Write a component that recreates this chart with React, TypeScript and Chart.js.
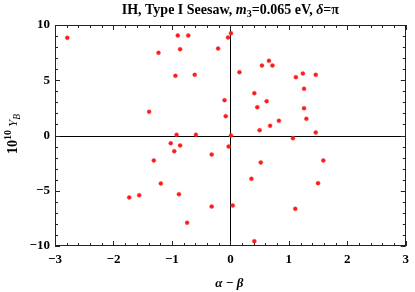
import React, { useEffect, useRef } from 'react';
import { Chart, registerables } from 'chart.js';
Chart.register(...registerables);

const alphaMinusBeta = [
  -2.79, -0.9, -0.72, -1.23, -0.86, -0.21, -0.04, 0.01, -0.94, -0.61, -1.39, -0.1, -0.08, -0.92, -0.59,
  0.66, 0.54, 0.72, 0.155, 1.24, 1.12, 1.46, 1.26, 0.41, 0.62, 0.46, 1.26, 1.3, 0.83, 0.68, 0.5, 1.46,
  0.01, 1.07, -0.03, -1.02, -0.86, -0.96, -0.32, -1.31, -1.19, -1.73, -1.56, -0.88, -0.32, -0.74,
  0.52, 1.59, 0.36, 1.5, 0.04, 1.11, 0.41,
];
const yB = [
  8.84, 9.05, 9.05, 7.48, 7.81, 7.87, 8.87, 9.26, 5.4, 5.49, 2.14, 3.2, 1.75, 0.07, 0.07,
  6.76, 6.33, 6.33, 5.73, 5.61, 5.28, 5.49, 4.22, 3.83, 3.1, 2.56, 2.47, 1.51, 1.33, 0.88, 0.48, 0.27,
  0.0, -0.24, -1.0, -0.7, -0.9, -1.42, -1.72, -2.26, -4.34, -5.61, -5.4, -5.31, -6.43, -7.9,
  -2.44, -2.26, -3.92, -4.31, -6.33, -6.64, -9.56,
];
const xTicks = [-3, -2, -1, 0, 1, 2, 3];
const yTicks = [-10, -5, 0, 5, 10];
const xMinorStep = 0.2;
const yMinorStep = 1;

const SERIF = '"Liberation Serif", "DejaVu Serif", serif';

function drawRich(ctx: CanvasRenderingContext2D, parts: { t: string; f: string; dy?: number }[], cx: number, baseY: number) {
  let total = 0;
  for (const p of parts) {
    ctx.font = p.f;
    total += ctx.measureText(p.t).width;
  }
  let x = cx - total / 2;
  for (const p of parts) {
    ctx.font = p.f;
    ctx.fillText(p.t, x, baseY + (p.dy || 0));
    x += ctx.measureText(p.t).width;
  }
}

const framePlugin = {
  id: 'frameTicks',
  beforeDatasetsDraw(chart: any) {
    const { ctx, chartArea: a, scales } = chart;
    const x0 = Math.round(scales.x.getPixelForValue(0)) + 0.5;
    const y0 = Math.round(scales.y.getPixelForValue(0)) + 0.5;
    ctx.save();
    ctx.strokeStyle = '#000';
    ctx.lineWidth = 1;
    ctx.beginPath();
    ctx.moveTo(x0, a.top);
    ctx.lineTo(x0, a.bottom);
    ctx.moveTo(a.left, y0);
    ctx.lineTo(a.right, y0);
    ctx.stroke();
    ctx.restore();
  },
  afterDatasetsDraw(chart: any) {
    const { ctx, chartArea: a, scales } = chart;
    ctx.save();
    ctx.strokeStyle = '#222';
    ctx.lineWidth = 1;
    ctx.strokeRect(Math.round(a.left) + 0.5, Math.round(a.top) + 0.5, Math.round(a.right - a.left) - 1, Math.round(a.bottom - a.top) - 1);
    ctx.beginPath();
    const xs = scales.x;
    for (let i = 0; i <= Math.round((xs.max - xs.min) / xMinorStep); i++) {
      const v = xs.min + i * xMinorStep;
      const major = Math.abs(v - Math.round(v)) < 1e-6;
      const len = major ? 5 : 3;
      const px = Math.round(xs.getPixelForValue(v)) + 0.5;
      ctx.moveTo(px, a.bottom);
      ctx.lineTo(px, a.bottom - len);
      ctx.moveTo(px, a.top);
      ctx.lineTo(px, a.top + len);
    }
    const ys = scales.y;
    for (let i = 0; i <= Math.round((ys.max - ys.min) / yMinorStep); i++) {
      const v = ys.min + i * yMinorStep;
      const major = Math.abs(v / 5 - Math.round(v / 5)) < 1e-6;
      const len = major ? 5 : 3;
      const py = Math.round(ys.getPixelForValue(v)) + 0.5;
      ctx.moveTo(a.left, py);
      ctx.lineTo(a.left + len, py);
      ctx.moveTo(a.right, py);
      ctx.lineTo(a.right - len, py);
    }
    ctx.stroke();
    ctx.restore();
  },
  afterDraw(chart: any) {
    const { ctx, chartArea: a } = chart;
    const cx = (a.left + a.right) / 2;
    ctx.save();
    ctx.fillStyle = '#000';
    ctx.textBaseline = 'alphabetic';
    // title
    drawRich(ctx, [
      { t: 'IH, Type I Seesaw, ', f: `bold 14px ${SERIF}` },
      { t: 'm', f: `bold italic 14px ${SERIF}` },
      { t: '3', f: `bold 10px ${SERIF}`, dy: 3 },
      { t: '=0.065 eV, ', f: `bold 14px ${SERIF}` },
      { t: 'δ', f: `bold italic 14px ${SERIF}` },
      { t: '=π', f: `bold 14px ${SERIF}` },
    ], cx, 14);
    // x label
    drawRich(ctx, [
      { t: 'α − β', f: `bold italic 13px ${SERIF}` },
    ], cx - 1, 287);
    // y label
    ctx.translate(17, 134);
    ctx.rotate(-Math.PI / 2);
    drawRich(ctx, [
      { t: '10', f: `bold 14px ${SERIF}` },
      { t: '10', f: `bold 10px ${SERIF}`, dy: -6 },
      { t: ' ', f: `bold 12px ${SERIF}` },
      { t: 'Y', f: `italic 13px ${SERIF}` },
      { t: 'B', f: `italic 9.5px ${SERIF}`, dy: 3 },
    ], 0, 0);
    ctx.restore();
  },
};

const fmt = (v: number) => (v < 0 ? '−' + Math.abs(v) : String(v));

export default function App() {
  const ref = useRef<HTMLCanvasElement>(null);
  useEffect(() => {
    if (!ref.current) return;
    const chart = new Chart(ref.current, {
      type: 'scatter',
      data: {
        datasets: [{
          data: alphaMinusBeta.map((x, i) => ({ x, y: yB[i] })),
          backgroundColor: '#ff1a1a',
          borderColor: 'rgba(255,60,60,0.6)',
          borderWidth: 0.8,
          pointRadius: 2,
        }],
      },
      options: {
        responsive: false,
        animation: false,
        layout: { padding: { top: 25, right: 5, left: 0, bottom: 0 } },
        plugins: { legend: { display: false }, tooltip: { enabled: false }, title: { display: false } },
        scales: {
          x: {
            type: 'linear', min: -3, max: 3,
            afterBuildTicks: (s: any) => { s.ticks = xTicks.map((v) => ({ value: v })); },
            afterFit: (s: any) => { s.height = 46; },
            grid: { display: false, drawTicks: false }, border: { display: false },
            ticks: { color: '#000', padding: 6, maxRotation: 0, font: { family: SERIF, size: 13, weight: 'bold' }, callback: (v: any) => fmt(Number(v)) },
          },
          y: {
            type: 'linear', min: -10, max: 10,
            afterBuildTicks: (s: any) => { s.ticks = yTicks.map((v) => ({ value: v })); },
            afterFit: (s: any) => { s.width = 55; },
            grid: { display: false, drawTicks: false }, border: { display: false },
            ticks: { color: '#000', padding: 5, font: { family: SERIF, size: 13, weight: 'bold' }, callback: (v: any) => fmt(Number(v)) },
          },
        },
      },
      plugins: [framePlugin],
    } as any);
    return () => chart.destroy();
  }, []);
  return (
    <canvas ref={ref} width={415} height={292} style={{ position: 'absolute', left: 0, top: 0, background: '#fff' }} />
  );
}
